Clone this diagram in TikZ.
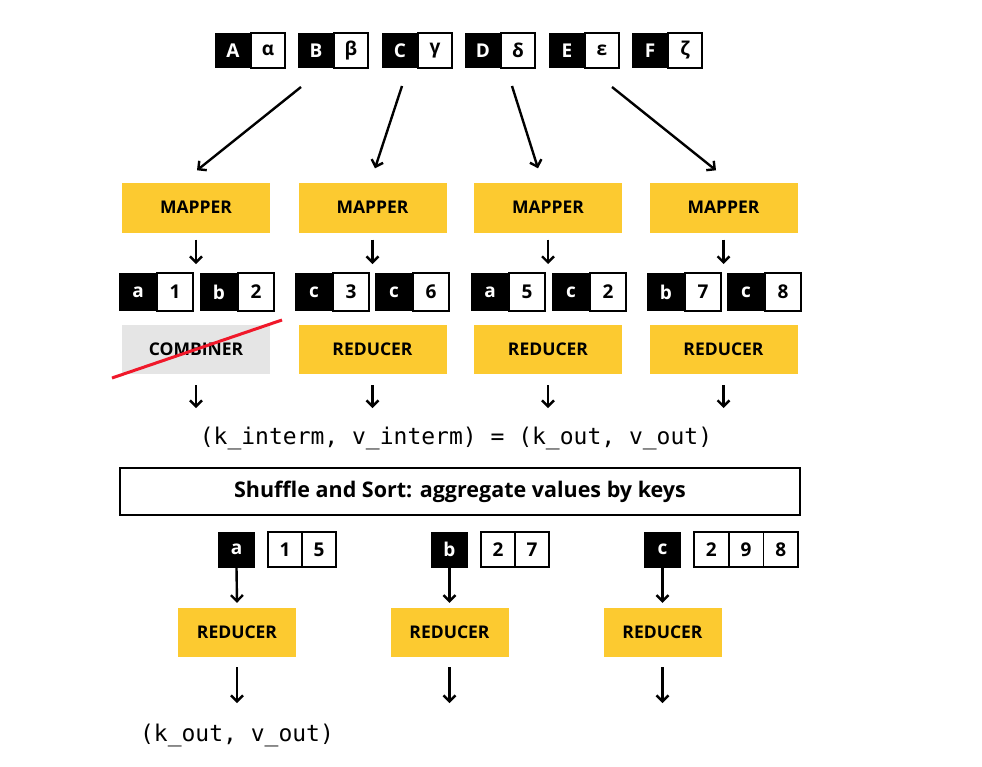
\documentclass[tikz,border=0pt]{standalone}
\usepackage{fontspec}
\setmainfont{Open Sans}
\setmonofont{DejaVu Sans Mono}
\usetikzlibrary{arrows.meta,positioning,calc}
\definecolor{yell}{HTML}{FCCA30}
\definecolor{cgrey}{HTML}{E5E5E5}
\definecolor{cred}{HTML}{F0182A}
\begin{document}
\begin{tikzpicture}[x=1pt,y=-1pt,
  cell/.style={inner sep=0pt,outer sep=0pt,anchor=north west,font=\bfseries\fontsize{19}{19}\selectfont},
  kbox/.style={cell,fill=black,text=white},
  vbox/.style={cell,fill=white,draw=black,line width=1.6pt,text=black},
  yb/.style={fill=yell,inner sep=0pt,font=\bfseries\fontsize{17.5}{17.5}\selectfont},
  gb/.style={fill=cgrey,inner sep=0pt,font=\bfseries\fontsize{17.5}{17.5}\selectfont},
  arr/.style={line width=2.4pt,-{Straight Barb[length=6pt,width=12pt,line width=2.4pt]}},
  mono/.style={font=\ttfamily\fontsize{23}{23}\selectfont,inner sep=0pt},
]
\useasboundingbox (0,0) rectangle (982,766);
\fill[white] (0,0) rectangle (982,766);

% top pairs
\newcommand\toppair[4]{%
  \node[kbox,minimum width=36pt,minimum height=35pt] (#1k) at (#2,33) {#3};
  \node[vbox,minimum width=34pt,minimum height=35pt] (#1v) at (#1k.north east) {#4};}
\toppair{A}{215}{A}{α}
\toppair{B}{298}{B}{β}
\toppair{C}{382}{C}{γ}
\toppair{D}{465}{D}{δ}
\toppair{E}{549}{E}{ε}
\toppair{F}{632}{F}{ζ}

% mappers
\node[yb,minimum width=148pt,minimum height=50pt] (m1) at (196,207.5) {MAPPER};
\node[yb,minimum width=148pt,minimum height=50pt] (m2) at (372.5,207.5) {MAPPER};
\node[yb,minimum width=148pt,minimum height=50pt] (m3) at (548,207.5) {MAPPER};
\node[yb,minimum width=148pt,minimum height=50pt] (m4) at (723.5,207.5) {MAPPER};

% top arrows
\coordinate (s1) at (301,87);
\coordinate (s2) at (402,86);
\coordinate (s3) at (512,86);
\coordinate (s4) at (612,87);
\draw[arr] (s1) -- ([xshift=1pt,yshift=12pt]m1.north);
\draw[arr] (s2) -- ([xshift=2.5pt,yshift=14pt]m2.north);
\draw[arr] (s3) -- ([xshift=-10pt,yshift=14pt]m3.north);
\draw[arr] (s4) -- ([xshift=-7.5pt,yshift=12pt]m4.north);

% mapper outputs
\newcommand\midpair[4]{%
  \node[kbox,minimum width=38pt,minimum height=38pt] (#1k) at (#2,273) {#3};
  \node[vbox,minimum width=36pt,minimum height=38pt] (#1v) at (#1k.north east) {#4};}
\midpair{pa}{119}{a}{1}
\midpair{pb}{200}{b}{2}
\midpair{pc}{295}{c}{3}
\midpair{pd}{375}{c}{6}
\midpair{pe}{471}{a}{5}
\midpair{pf}{552}{c}{2}
\midpair{pg}{647}{b}{7}
\midpair{ph}{727}{c}{8}

\draw[arr] ([yshift=-7pt]m1.south) -- ([yshift=9pt]m1.south |- pak.north);
\draw[arr] ([yshift=-7pt]m2.south) -- ([yshift=9pt]m2.south |- pck.north);
\draw[arr] ([yshift=-7pt]m3.south) -- ([yshift=9pt]m3.south |- pek.north);
\draw[arr] ([yshift=-7pt]m4.south) -- ([yshift=9pt]m4.south |- pgk.north);

% combiner / reducers
\node[gb,minimum width=148pt,minimum height=49pt] (c1) at (196,349.5) {COMBINER};
\node[yb,minimum width=148pt,minimum height=49pt] (c2) at (372.5,349.5) {REDUCER};
\node[yb,minimum width=148pt,minimum height=49pt] (c3) at (548,349.5) {REDUCER};
\node[yb,minimum width=148pt,minimum height=49pt] (c4) at (723.5,349.5) {REDUCER};
\coordinate (x1) at (112,378);
\coordinate (x2) at (282,320);
\draw[cred,line width=3pt] (x1) -- (x2);

\coordinate (o1) at (196,408);
\coordinate (o2) at (372.5,408);
\coordinate (o3) at (548,408);
\coordinate (o4) at (723.5,408);
\draw[arr] ([yshift=-11pt]c1.south) -- (o1);
\draw[arr] ([yshift=-11pt]c2.south) -- (o2);
\draw[arr] ([yshift=-11pt]c3.south) -- (o3);
\draw[arr] ([yshift=-11pt]c4.south) -- (o4);

\node[mono] (eq) at (456,438) {(k\_interm, v\_interm) = (k\_out, v\_out)};

\node[draw=black,line width=2pt,minimum width=680pt,minimum height=47pt,inner sep=0pt,
      font=\bfseries\fontsize{21.5}{21.5}\selectfont] (sh) at (460,491.5) {Shuffle and Sort: aggregate values by keys};

% shuffled groups
\node[kbox,minimum width=37pt,minimum height=36pt] (ka) at (218,531.5) {a};
\node[vbox,minimum width=34pt,minimum height=35pt] (va1) at (268,532) {1};
\node[vbox,minimum width=34pt,minimum height=35pt] (va2) at (va1.north east) {5};
\node[kbox,minimum width=37pt,minimum height=36pt] (kb) at (431,531.5) {b};
\node[vbox,minimum width=34pt,minimum height=35pt] (vb1) at (481,532) {2};
\node[vbox,minimum width=34pt,minimum height=35pt] (vb2) at (vb1.north east) {7};
\node[kbox,minimum width=37pt,minimum height=36pt] (kc) at (644,531.5) {c};
\node[vbox,minimum width=34.7pt,minimum height=35pt] (vc1) at (694,532) {2};
\node[vbox,minimum width=34.7pt,minimum height=35pt] (vc2) at (vc1.north east) {9};
\node[vbox,minimum width=34.7pt,minimum height=35pt] (vc3) at (vc2.north east) {8};

\node[yb,minimum width=118pt,minimum height=49pt] (r1) at (237,632.5) {REDUCER};
\node[yb,minimum width=118pt,minimum height=49pt] (r2) at (449.5,632.5) {REDUCER};
\node[yb,minimum width=118pt,minimum height=49pt] (r3) at (662.5,632.5) {REDUCER};

\draw[arr] (ka.south) -- ([yshift=5pt]r1.north);
\draw[arr] (kb.south) -- ([yshift=5pt]r2.north);
\draw[arr] (kc.south) -- ([yshift=5pt]r3.north);

\coordinate (f1) at (237,703);
\coordinate (f2) at (449.5,703);
\coordinate (f3) at (662.5,703);
\draw[arr] ([yshift=-10pt]r1.south) -- (f1);
\draw[arr] ([yshift=-10pt]r2.south) -- (f2);
\draw[arr] ([yshift=-10pt]r3.south) -- (f3);

\node[mono] (out) at (237,735) {(k\_out, v\_out)};
\end{tikzpicture}
\end{document}
